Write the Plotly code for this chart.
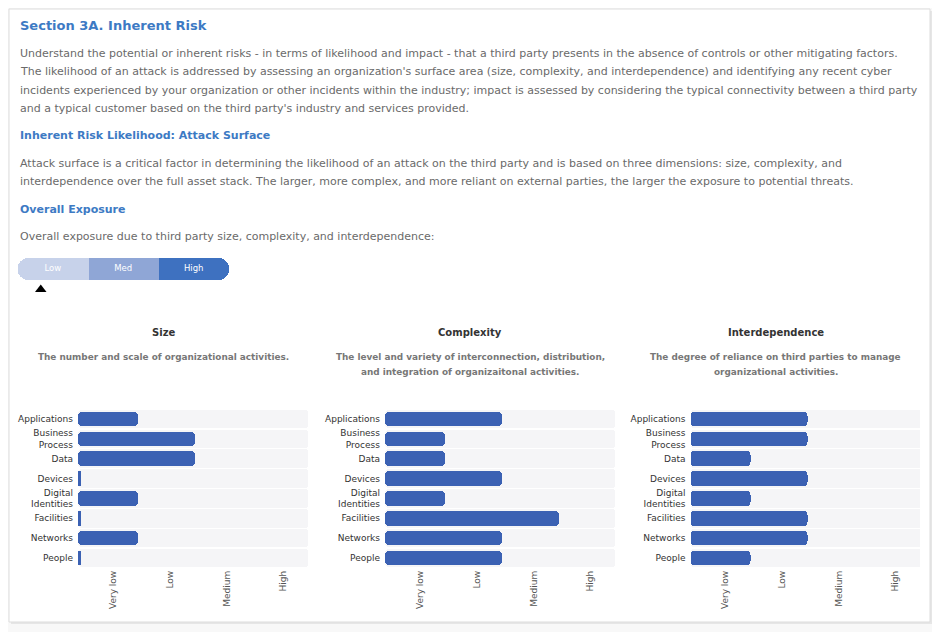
import plotly.graph_objects as go

# The page body adds an 8px margin, so the figure is drawn 8px smaller and
# every pixel position below is given in window coordinates and converted.
OFF = 8
W, H = 940 - OFF, 632 - OFF
FONT = "DejaVu Sans"

# ---------------- data ----------------
categories = ["Applications", "Business<br>Process", "Data", "Devices",
              "Digital<br>Identities", "Facilities", "Networks", "People"]
level_labels = ["Very low", "Low", "Medium", "High"]
size_values = [1, 2, 2, 0, 1, 0, 1, 0]
complexity_values = [2, 1, 1, 2, 1, 3, 2, 2]
interdependence_values = [2, 2, 1, 2, 1, 2, 2, 1]
exposure_labels = ["Low", "Med", "High"]
exposure_value = 0.33

panel_titles = ["Size", "Complexity", "Interdependence"]
panel_subtitles = [
    ["The number and scale of organizational activities."],
    ["The level and variety of interconnection, distribution,",
     "and integration of organizaitonal activities."],
    ["The degree of reliance on third parties to manage",
     "organizational activities."],
]

title_text = "Section 3A. Inherent Risk"
intro_lines = [
    "Understand the potential or inherent risks - in terms of likelihood and impact - that a third party presents in the absence of controls or other mitigating factors.",
    "The likelihood of an attack is addressed by assessing an organization's surface area (size, complexity, and interdependence) and identifying any recent cyber",
    "incidents experienced by your organization or other incidents within the industry; impact is assessed by considering the typical connectivity between a third party",
    "and a typical customer based on the third party's industry and services provided.",
]
heading2 = "Inherent Risk Likelihood: Attack Surface"
surface_lines = [
    "Attack surface is a critical factor in determining the likelihood of an attack on the third party and is based on three dimensions: size, complexity, and",
    "interdependence over the full asset stack. The larger, more complex, and more reliant on external parties, the larger the exposure to potential threats.",
]
heading3 = "Overall Exposure"
exposure_line = "Overall exposure due to third party size, complexity, and interdependence:"

# ---------------- style ----------------
BLUE_HEAD = "#3d7ac4"
BODY = "#6a6a6a"
BAR = "#3b61b3"
BAND = "#f5f5f7"
EXPO_COLORS = ["#c7d2ea", "#8fa6d6", "#3e71c0"]
STUB = 0.06
XMAX = 3.98


def X(px):
    return (px - OFF) / W


def Y(py):
    return 1 - (py - OFF) / H


fig = go.Figure()

# ---------------- bar panels ----------------
panel_x = [(78, 308), (385, 615), (690.5, 920)]
panel_vals = [size_values, complexity_values, interdependence_values]
for i, vals in enumerate(panel_vals):
    ax = "" if i == 0 else str(i + 1)
    fig.add_trace(go.Bar(
        y=categories, x=[len(level_labels) + STUB] * len(categories), base=-STUB,
        orientation="h", marker=dict(color=BAND, cornerradius=4, line=dict(width=0)),
        width=0.93, hoverinfo="skip", showlegend=False,
        xaxis="x" + ax, yaxis="y" + ax))
    fig.add_trace(go.Bar(
        y=categories, x=[v + STUB for v in vals], base=-STUB,
        orientation="h", marker=dict(color=BAR, cornerradius=4, line=dict(width=0)),
        width=0.73, showlegend=False,
        xaxis="x" + ax, yaxis="y" + ax))
    x0, x1 = panel_x[i]
    fig.layout["xaxis" + ax] = dict(
        domain=[X(x0), X(x1)], range=[-STUB, XMAX], anchor="y" + ax,
        tickvals=[k + 0.55 for k in range(len(level_labels))], ticktext=level_labels,
        tickangle=-90, tickfont=dict(family=FONT, size=9, color="#555"),
        showgrid=False, zeroline=False, showline=False, ticks="", fixedrange=True)
    fig.layout["yaxis" + ax] = dict(
        domain=[Y(568), Y(409)], anchor="x" + ax, autorange="reversed",
        type="category", tickfont=dict(family=FONT, size=9, color="#333"),
        showgrid=False, zeroline=False, showline=False, ticks="",
        ticklabelstandoff=4, fixedrange=True)

# ---------------- exposure pill ----------------
n_exp = len(exposure_labels)
# outer segments are drawn a little longer (rounded ends), the middle one covers the overlap
fig.add_trace(go.Bar(
    y=[0], x=[1.5], base=[0], orientation="h", width=[1.3],
    marker=dict(color=EXPO_COLORS[0], cornerradius=11, line=dict(width=0)),
    hoverinfo="skip", showlegend=False, xaxis="x4", yaxis="y4"))
fig.add_trace(go.Bar(
    y=[0], x=[1.5], base=[n_exp - 1.5], orientation="h", width=[1.3],
    marker=dict(color=EXPO_COLORS[2], cornerradius=11, line=dict(width=0)),
    hoverinfo="skip", showlegend=False, xaxis="x4", yaxis="y4"))
fig.add_trace(go.Bar(
    y=[0], x=[1], base=[1], orientation="h", width=[1.3],
    marker=dict(color=EXPO_COLORS[1], line=dict(width=0)),
    hoverinfo="skip", showlegend=False, xaxis="x4", yaxis="y4"))
fig.add_trace(go.Scatter(
    x=[k + 0.5 for k in range(n_exp)], y=[0] * n_exp, mode="text",
    text=exposure_labels, textposition="middle center",
    textfont=dict(family=FONT, size=8.5, color="white"),
    hoverinfo="skip", showlegend=False, xaxis="x4", yaxis="y4"))
fig.add_trace(go.Scatter(
    x=[exposure_value], y=[-1.2], mode="markers",
    marker=dict(symbol="triangle-up", size=10, color="black"),
    showlegend=False, xaxis="x4", yaxis="y4"))
fig.layout["xaxis4"] = dict(domain=[X(17.5), X(229)], range=[0, n_exp],
                            anchor="y4", visible=False, fixedrange=True)
fig.layout["yaxis4"] = dict(domain=[Y(294.5), Y(252)], range=[-1.5, 1],
                            anchor="x4", visible=False, fixedrange=True)

# ---------------- text ----------------
ann = []


def txt(s, x, y, size, color, bold=False, xanchor="left"):
    ann.append(dict(text=("<b>%s</b>" % s) if bold else s, x=X(x), y=Y(y),
                    xref="paper", yref="paper", xanchor=xanchor, yanchor="middle",
                    showarrow=False, font=dict(family=FONT, size=size, color=color)))


txt(title_text, 18, 25.7, 13, BLUE_HEAD, bold=True)
for j, line in enumerate(intro_lines):
    txt(line, 18, 53.3 + j * 18.45, 11, BODY)
txt(heading2, 18, 136, 11, BLUE_HEAD, bold=True)
for j, line in enumerate(surface_lines):
    txt(line, 18, 163.3 + j * 18.4, 11, BODY)
txt(heading3, 18, 209.3, 11, BLUE_HEAD, bold=True)
txt(exposure_line, 18, 236.7, 11, BODY)

centers = [163, 470, 775.5]
for i in range(3):
    txt(panel_titles[i], centers[i], 332.3, 10, "#333", bold=True, xanchor="center")
    for j, line in enumerate(panel_subtitles[i]):
        txt(line, centers[i], 357 + j * 14.6, 8.9, "#777", bold=True, xanchor="center")

fig.update_layout(
    width=W, height=H, margin=dict(l=0, r=0, t=0, b=0),
    paper_bgcolor="#f8f8f8", plot_bgcolor="rgba(0,0,0,0)",
    barmode="overlay", bargap=0, annotations=ann, showlegend=False,
    shapes=[
        dict(type="rect", xref="paper", yref="paper", x0=X(11), x1=X(932),
             y0=Y(624), y1=Y(11), fillcolor="#e6e6e6", line=dict(width=0), layer="below"),
        dict(type="rect", xref="paper", yref="paper", x0=X(9), x1=X(930),
             y0=Y(622), y1=Y(9), fillcolor="white",
             line=dict(color="#dddddd", width=1), layer="below"),
    ],
    font=dict(family=FONT),
)

fig.write_html("out.html")
